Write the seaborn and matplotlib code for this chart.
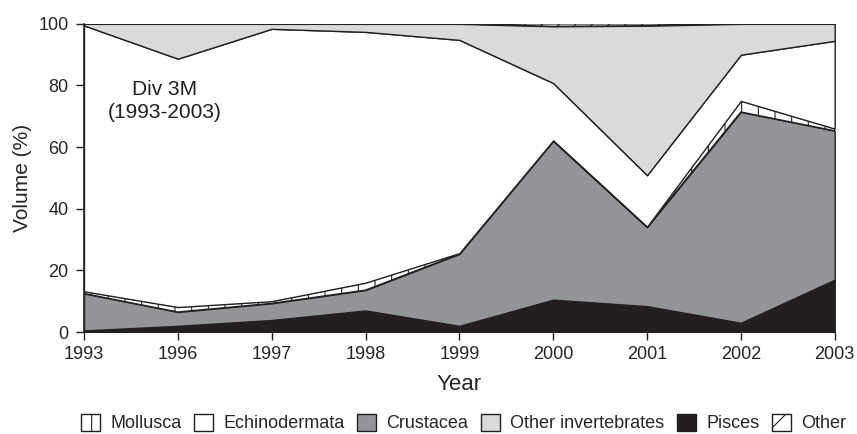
import matplotlib
matplotlib.use("Agg")
import matplotlib.pyplot as plt
from matplotlib.patches import Patch
import seaborn as sns

years = ["1993", "1996", "1997", "1998", "1999", "2000", "2001", "2002", "2003"]

# layer thickness (% volume), stacked bottom to top
pisces = [0.5, 2, 3.9, 7, 2, 10.5, 8.4, 3, 17]
crustacea = [12, 4.5, 5.4, 6.6, 23.3, 51.5, 25.6, 68.4, 48.3]
mollusca = [0.7, 1.6, 0.7, 2.4, 0.3, 0.2, 0.2, 3.6, 0.7]
echinodermata = [86.3, 80.6, 88.4, 81.4, 69.2, 18.6, 16.7, 15, 28.5]
other_inv = [0.5, 11.3, 1.6, 2.6, 5.2, 18.4, 48.5, 10, 5.5]
other = [0, 0, 0, 0, 0, 0.8, 0.6, 0, 0]

sns.set_style("ticks")
plt.rcParams["font.family"] = ["Liberation Sans", "DejaVu Sans"]
plt.rcParams["hatch.linewidth"] = 0.8

fig = plt.figure(figsize=(8.57, 4.34), dpi=100)
ax = fig.add_axes([0.098, 0.235, 0.876, 0.71])

x = list(range(len(years)))
layers = [pisces, crustacea, mollusca, echinodermata, other_inv, other]
colors = ["#231f20", "#939598", "white", "white", "#d9dadc", "white"]
hatches = [None, None, "|", None, None, "//"]

polys = ax.stackplot(x, *layers, colors=colors, edgecolor="#231f20", linewidth=1.0)
for p, h in zip(polys, hatches):
    if h:
        p.set_hatch(h)

ax.set_xlim(0, 8)
ax.set_ylim(0, 100)
ax.set_xticks(x)
ax.set_xticklabels(years, fontsize=13)
ax.set_yticks([0, 20, 40, 60, 80, 100])
ax.tick_params(axis="y", labelsize=13, length=6, width=1, color="#231f20", pad=5)
ax.tick_params(axis="x", length=6, width=1, color="#231f20", pad=4)
ax.set_xlabel("Year", fontsize=16, labelpad=8)
ax.set_ylabel("Volume (%)", fontsize=15, labelpad=5)
sns.despine(ax=ax)
for s in ["left", "bottom"]:
    ax.spines[s].set_linewidth(1.2)
    ax.spines[s].set_color("#231f20")

ax.text(0.86, 75, "Div 3M\n(1993-2003)", ha="center", va="center", fontsize=15,
        color="#231f20", linespacing=1.3)

names = ["Mollusca", "Echinodermata", "Crustacea", "Other invertebrates", "Pisces", "Other"]
leg_colors = ["white", "white", "#939598", "#d9dadc", "#231f20", "white"]
leg_hatches = ["|", None, None, None, None, "/"]
handles = [Patch(facecolor=c, edgecolor="#231f20", hatch=h, label=n)
           for n, c, h in zip(names, leg_colors, leg_hatches)]
fig.legend(handles=handles, loc="center", bbox_to_anchor=(0.541, 0.025), ncol=6,
           frameon=False, fontsize=13, handlelength=1.05, handleheight=1.05,
           handletextpad=0.55, columnspacing=0.72, borderpad=0.2)

fig.savefig("out.png", dpi=100)
